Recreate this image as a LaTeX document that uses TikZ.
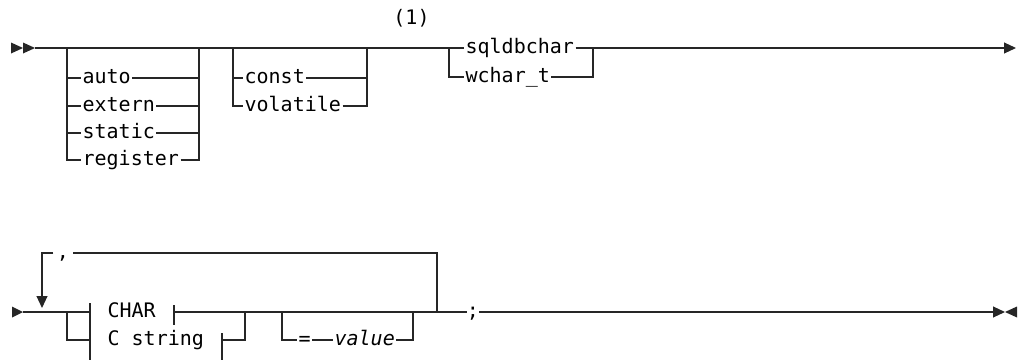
\documentclass[tikz,border=0pt]{standalone}
\usepackage{fontspec}
\newfontfamily\railfont{DejaVu Sans Mono}[ItalicFont={DejaVu Sans Mono Oblique}]
\usetikzlibrary{positioning, arrows.meta, calc}

\newcommand{\kwfont}{\railfont\fontsize{15pt}{18pt}\selectfont}

\begin{document}
\begin{tikzpicture}[
    x=0.75pt, y=-0.75pt,
    rail/.style={
        line width=0.95pt,
        color=black!85
    },
    railarrow/.style={
        rail,
        -{Triangle[length=9pt, width=8.2pt]}
    },
    tipmark/.style={
        fill=black!85
    },
    kw/.style={
        font=\kwfont,
        text height=8.2pt,
        text depth=0pt,
        inner xsep=1pt,
        inner ysep=0pt,
        anchor=west
    },
    sep/.style={
        font=\kwfont,
        text height=8.2pt,
        text depth=0pt,
        inner xsep=0pt,
        inner ysep=0pt,
        anchor=center
    }
]
\useasboundingbox (0,0) rectangle (1021,364);

% Row 1: junctions
\coordinate (start)  at (35,48);
\coordinate (g1in)   at (67,48);
\coordinate (g1out)  at (199,48);
\coordinate (g2in)   at (233,48);
\coordinate (g2out)  at (367,48);
\coordinate (g3in)   at (449,48);
\coordinate (g3out)  at (593,48);
\coordinate (cont)   at (1016,48);

% Row 1: keywords
\node[kw] (auto)     at (81,78)  {auto};
\node[kw] (extern)   at (81,106) {extern};
\node[kw] (static)   at (81,133) {static};
\node[kw] (register) at (81,160) {register};
\node[kw] (const)    at (243,78)  {const};
\node[kw] (volatile) at (243,106) {volatile};
\node[kw] (sqldb)    at (464,48) {sqldbchar};
\node[kw] (wchar)    at (464,77) {wchar\_t};
\node[font=\kwfont] (note) at (411.5,18) {(1)};

% start marks
\fill[tipmark] (11,42.5) -- (23,48) -- (11,53.5) -- cycle;
\fill[tipmark] (23,42.5) -- (35,48) -- (23,53.5) -- cycle;

% storage class
\draw[rail] (start) -- (g1in) -- (g1out) -- (g2in) -- (g2out) -- (g3in) -- (sqldb.west);
\draw[rail] (g1in) |- (register.west);
\draw[rail] (register.east) -| (g1out);
\foreach \k in {auto, extern, static} {
    \draw[rail] (g1in |- \k.west) -- (\k.west);
    \draw[rail] (\k.east) -- (g1out |- \k.east);
}

% qualifier
\draw[rail] (g2in) |- (volatile.west);
\draw[rail] (volatile.east) -| (g2out);
\draw[rail] (g2in |- const.west) -- (const.west);
\draw[rail] (const.east) -- (g2out |- const.east);

% type
\draw[rail] (sqldb.east) -- (g3out);
\draw[rail] (g3in) |- (wchar.west);
\draw[rail] (wchar.east) -| (g3out);
\draw[railarrow] (g3out) -- (cont);

% Row 2: junctions
\coordinate (start2)  at (23,312);
\coordinate (loopin)  at (42,312);
\coordinate (fragin)  at (67,312);
\coordinate (fragout) at (245,312);
\coordinate (valin)   at (282,312);
\coordinate (valout)  at (413,312);
\coordinate (loopout) at (437,312);
\coordinate (looptop) at (437,253);
\coordinate (fin)     at (1005,312);

% Row 2: texts
\node[sep, inner xsep=2.5pt] (comma) at (63,253) {,};
\node[kw] (char)    at (106,312) {CHAR};
\node[kw] (cstring) at (106,340) {C string};
\node[kw] (eq)      at (297,340) {=};
\node[kw, font=\kwfont\itshape] (value) at (333,340) {value};
\node[sep] (semi)   at (473,312) {;};

% fragment bars
\coordinate (barL)  at (90,312);
\coordinate (barC)  at (174,312);
\coordinate (barS)  at (222,340);
\draw[rail] ($(barL)+(0,-9)$) -- ($(barL)+(0,48)$);
\draw[rail] ($(barC)+(0,-7)$) -- ($(barC)+(0,13)$);
\draw[rail] ($(barS)+(0,-7)$) -- ($(barS)+(0,20)$);

% start mark
\fill[tipmark] (12,306.5) -- (23,312) -- (12,317.5) -- cycle;

% repeat loop
\draw[rail] (loopout) -- (looptop) -- (comma.east);
\draw[railarrow] (comma.west) -| ($(loopin)+(0,-4)$);

% main line
\draw[rail] (start2) -- (loopin) -- (fragin) -- (barL);
\draw[rail] (fragin) |- (barL |- barS);
\draw[rail] (barC) -- (fragout) -- (valin) -- (valout) -- (loopout) -- (semi.west);
\draw[rail] (barS) -| (fragout);

% initial value
\draw[rail] (valin) |- (eq.west);
\draw[rail] (eq.east) -- (value.west);
\draw[rail] (value.east) -| (valout);

% end mark
\draw[railarrow] (semi.east) -- (fin);
\fill[tipmark] (1017,306.5) -- (1005,312) -- (1017,317.5) -- cycle;

\end{tikzpicture}
\end{document}
